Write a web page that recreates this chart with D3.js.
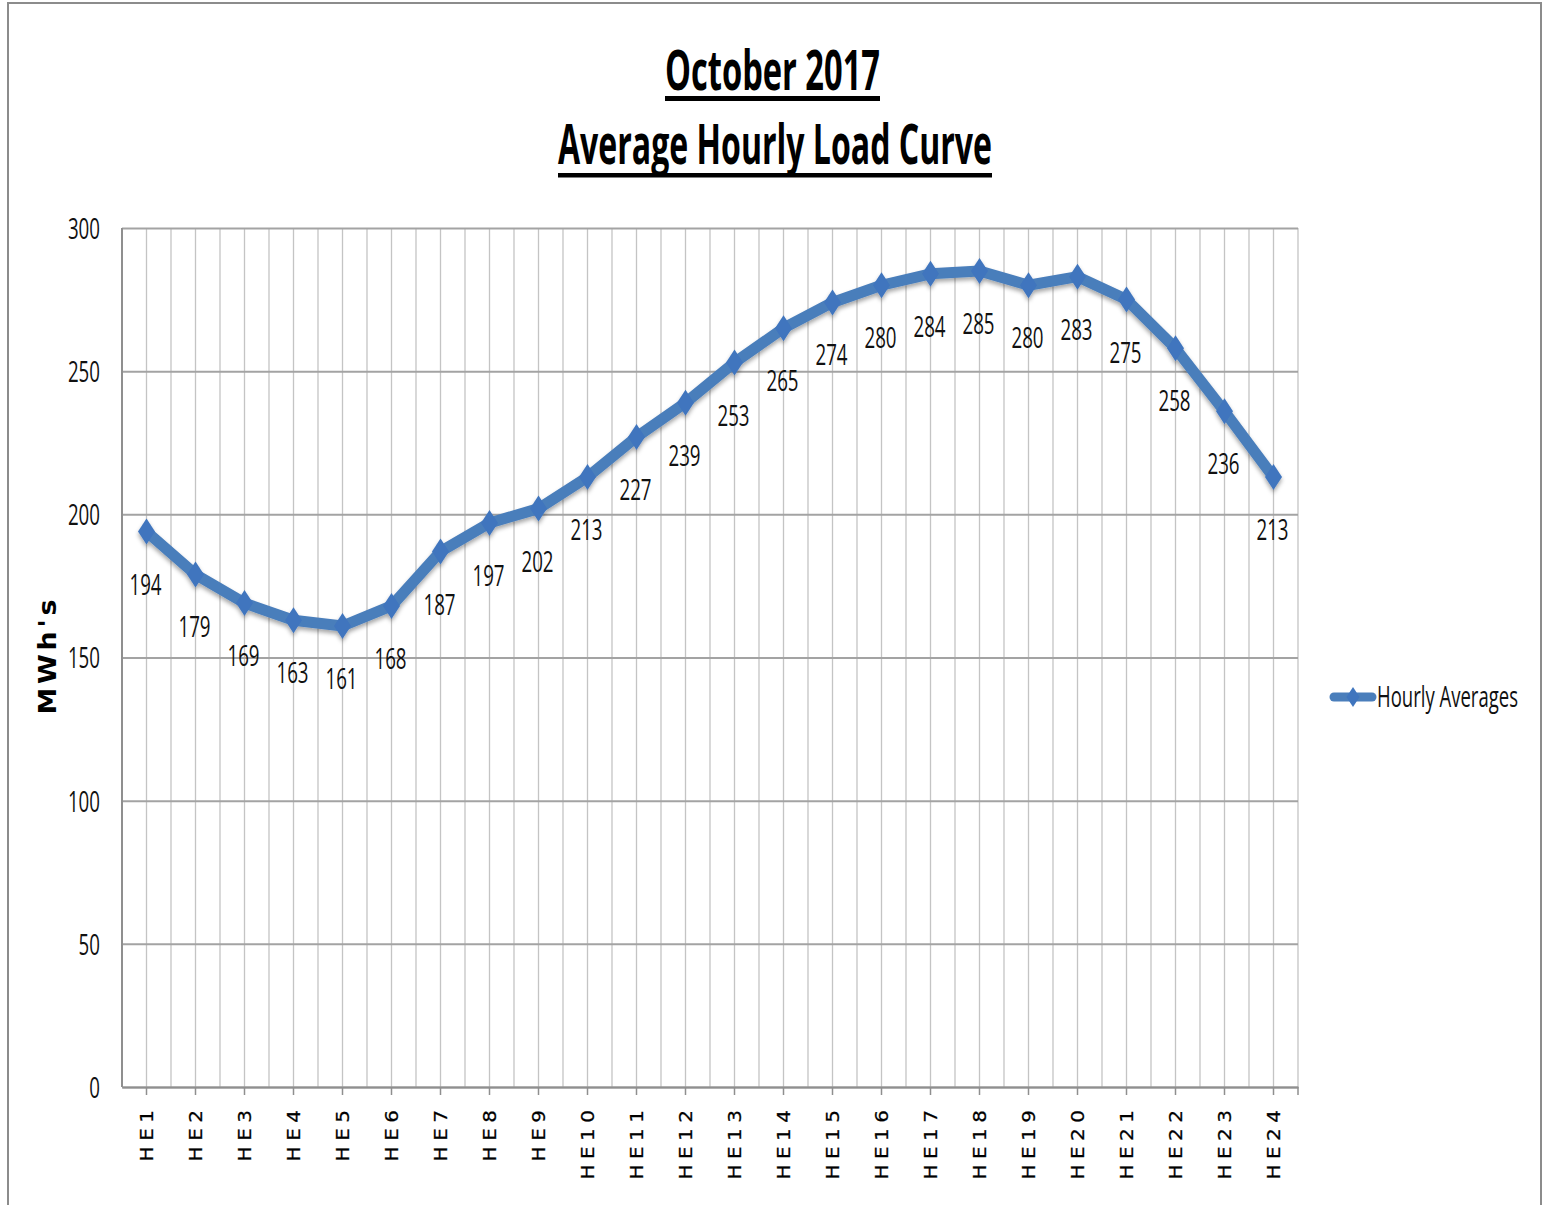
<!DOCTYPE html>
<html>
<head>
<meta charset="utf-8">
<script src="https://cdn.jsdelivr.net/npm/d3@7"></script>
<style>
  body { margin: 0; background: #fff; }
  svg { display: block; }
</style>
</head>
<body>
<svg id="chart" width="1545" height="1205"></svg>
<script>
// ---------- DATA ----------
const categories = ["HE1","HE2","HE3","HE4","HE5","HE6","HE7","HE8","HE9","HE10","HE11","HE12",
                    "HE13","HE14","HE15","HE16","HE17","HE18","HE19","HE20","HE21","HE22","HE23","HE24"];
const values = [194,179,169,163,161,168,187,197,202,213,227,239,
                253,265,274,280,284,285,280,283,275,258,236,213];
const yTicks = [0,50,100,150,200,250,300];
const titleLines = ["October 2017","Average Hourly Load Curve"];
const seriesName = "Hourly Averages";
const yTitle = "MWh's";

// ---------- LAYOUT ----------
const plot = { left: 122, right: 1298, top: 228, bottom: 1087 };
const lineColor = "#4A7EBB";
const markerColor = "#3F75BE";
const condFont = "'Open Sans', 'Noto Sans', sans-serif";
const digitW = 10.7;

const svg = d3.select("#chart");

const defs = svg.append("defs");
const f = defs.append("filter").attr("id","shadow").attr("x","-10%").attr("y","-10%").attr("width","120%").attr("height","130%");
f.append("feDropShadow").attr("dx",0).attr("dy",3).attr("stdDeviation",2.2)
  .attr("flood-color","#000").attr("flood-opacity",0.35);

// outer border
svg.append("rect").attr("x",8).attr("y",3).attr("width",1533).attr("height",1240)
  .attr("fill","#fff").attr("stroke","#8c8c8c").attr("stroke-width",2);

// scales
const x = d3.scaleBand().domain(categories).range([plot.left, plot.right]).paddingInner(0).paddingOuter(0);
const y = d3.scaleLinear().domain([0,300]).range([plot.bottom, plot.top]);
const bw = x.bandwidth();

// vertical gridlines (band boundaries and centers)
const vLines = [];
categories.forEach((c,i) => {
  if (i > 0) vLines.push(x(c));
  vLines.push(x(c) + bw/2);
});
vLines.push(plot.right);
svg.append("g").selectAll("line").data(vLines).join("line")
  .attr("x1", d => d).attr("x2", d => d)
  .attr("y1", plot.top).attr("y2", plot.bottom)
  .attr("stroke", "#c4c4c4").attr("stroke-width", 1.3);

// y axis with horizontal gridlines
const yAxis = d3.axisLeft(y).tickValues(yTicks).tickSize(-(plot.right - plot.left)).tickPadding(22);
const gy = svg.append("g").attr("transform", `translate(${plot.left},0)`).call(yAxis);
gy.select(".domain").remove();
gy.selectAll(".tick line").attr("stroke", "#a3a3a3").attr("stroke-width", 2);
gy.selectAll(".tick text")
  .attr("font-family", condFont).attr("font-size", 29).attr("fill", "#111")
  .attr("dy", "0.36em")
  .attr("textLength", d => String(d).length * digitW)
  .attr("lengthAdjust", "spacingAndGlyphs");

// y axis line
svg.append("line").attr("x1", plot.left).attr("x2", plot.left)
  .attr("y1", plot.top).attr("y2", plot.bottom)
  .attr("stroke", "#8f8f8f").attr("stroke-width", 2);

// x axis
const xAxis = d3.axisBottom(x).tickSize(8).tickSizeOuter(0);
const gx = svg.append("g").attr("transform", `translate(0,${plot.bottom})`).call(xAxis);
gx.select(".domain").attr("stroke", "#8f8f8f").attr("stroke-width", 2.2);
gx.selectAll(".tick line").attr("stroke", "#8f8f8f").attr("stroke-width", 1.5);
gx.selectAll(".tick text")
  .attr("font-family", "'DejaVu Sans', Verdana, sans-serif")
  .attr("font-size", 20).attr("fill", "#000")
  .attr("letter-spacing", 5.5)
  .attr("stroke", "#000").attr("stroke-width", 0.3)
  .attr("x", 0).attr("y", 0).attr("dy", 0)
  .attr("text-anchor", "end")
  .attr("transform", "translate(6.5,17.5) scale(0.88,1) rotate(-90)");
// end tick at right edge
gx.append("line").attr("x1", plot.right).attr("x2", plot.right)
  .attr("y1", 0).attr("y2", 8).attr("stroke", "#8f8f8f").attr("stroke-width", 1.5);

// series line + markers
const lineGen = d3.line().x((d,i) => x(categories[i]) + bw/2).y(d => y(d));
const series = svg.append("g").attr("filter", "url(#shadow)");
series.append("path").datum(values).attr("d", lineGen)
  .attr("fill", "none").attr("stroke", lineColor).attr("stroke-width", 11)
  .attr("stroke-linejoin", "round").attr("stroke-linecap", "round");
const diamond = "M0,-13L8.5,0L0,13L-8.5,0Z";
series.selectAll("path.m").data(values).join("path").attr("class","m")
  .attr("d", diamond)
  .attr("transform", (d,i) => `translate(${x(categories[i]) + bw/2},${y(d)})`)
  .attr("fill", markerColor);

// data labels
svg.append("g").selectAll("text").data(values).join("text")
  .attr("x", (d,i) => x(categories[i]) + bw/2 - 1)
  .attr("y", d => y(d) + 63)
  .attr("text-anchor", "middle")
  .attr("font-family", condFont).attr("font-size", 29).attr("fill", "#111")
  .attr("textLength", d => String(d).length * digitW)
  .attr("lengthAdjust", "spacingAndGlyphs")
  .text(d => d);

// y axis title
svg.append("text")
  .attr("transform", "translate(56,657) scale(0.9,1) rotate(-90)")
  .attr("text-anchor", "middle")
  .attr("font-family", "'DejaVu Sans', Verdana, sans-serif")
  .attr("font-weight", "bold").attr("font-size", 27).attr("fill", "#000")
  .attr("textLength", 115).attr("lengthAdjust", "spacing")
  .text(yTitle);

// title
const titleSpecs = [
  { text: titleLines[0], cx: 772.5, base: 90, width: 215, ulY: 96, ulH: 5 },
  { text: titleLines[1], cx: 775, base: 164, width: 434, ulY: 173, ulH: 4.5 }
];
titleSpecs.forEach(t => {
  svg.append("text")
    .attr("x", t.cx).attr("y", t.base).attr("text-anchor", "middle")
    .attr("font-family", condFont).attr("font-weight", "bold").attr("font-size", 55)
    .attr("fill", "#000")
    .attr("textLength", t.width).attr("lengthAdjust", "spacingAndGlyphs")
    .text(t.text);
  svg.append("rect").attr("x", t.cx - t.width/2).attr("y", t.ulY)
    .attr("width", t.width).attr("height", t.ulH).attr("fill", "#000");
});

// legend
const lg = svg.append("g").attr("transform", "translate(1330,697)");
lg.append("line").attr("x1", 4).attr("x2", 42).attr("y1", 0).attr("y2", 0)
  .attr("stroke", lineColor).attr("stroke-width", 9).attr("stroke-linecap", "round");
lg.append("path").attr("d", "M0,-10L6.5,0L0,10L-6.5,0Z").attr("transform", "translate(23,0)")
  .attr("fill", markerColor);
const lt = lg.append("text").attr("x", 0).attr("y", 0).attr("dy", "0.36em")
  .attr("font-family", condFont).attr("font-size", 29).attr("fill", "#111")
  .text(seriesName);
const natural = lt.node().getComputedTextLength();
lt.attr("transform", `translate(47,0) scale(${141 / natural},1)`);
</script>
</body>
</html>
